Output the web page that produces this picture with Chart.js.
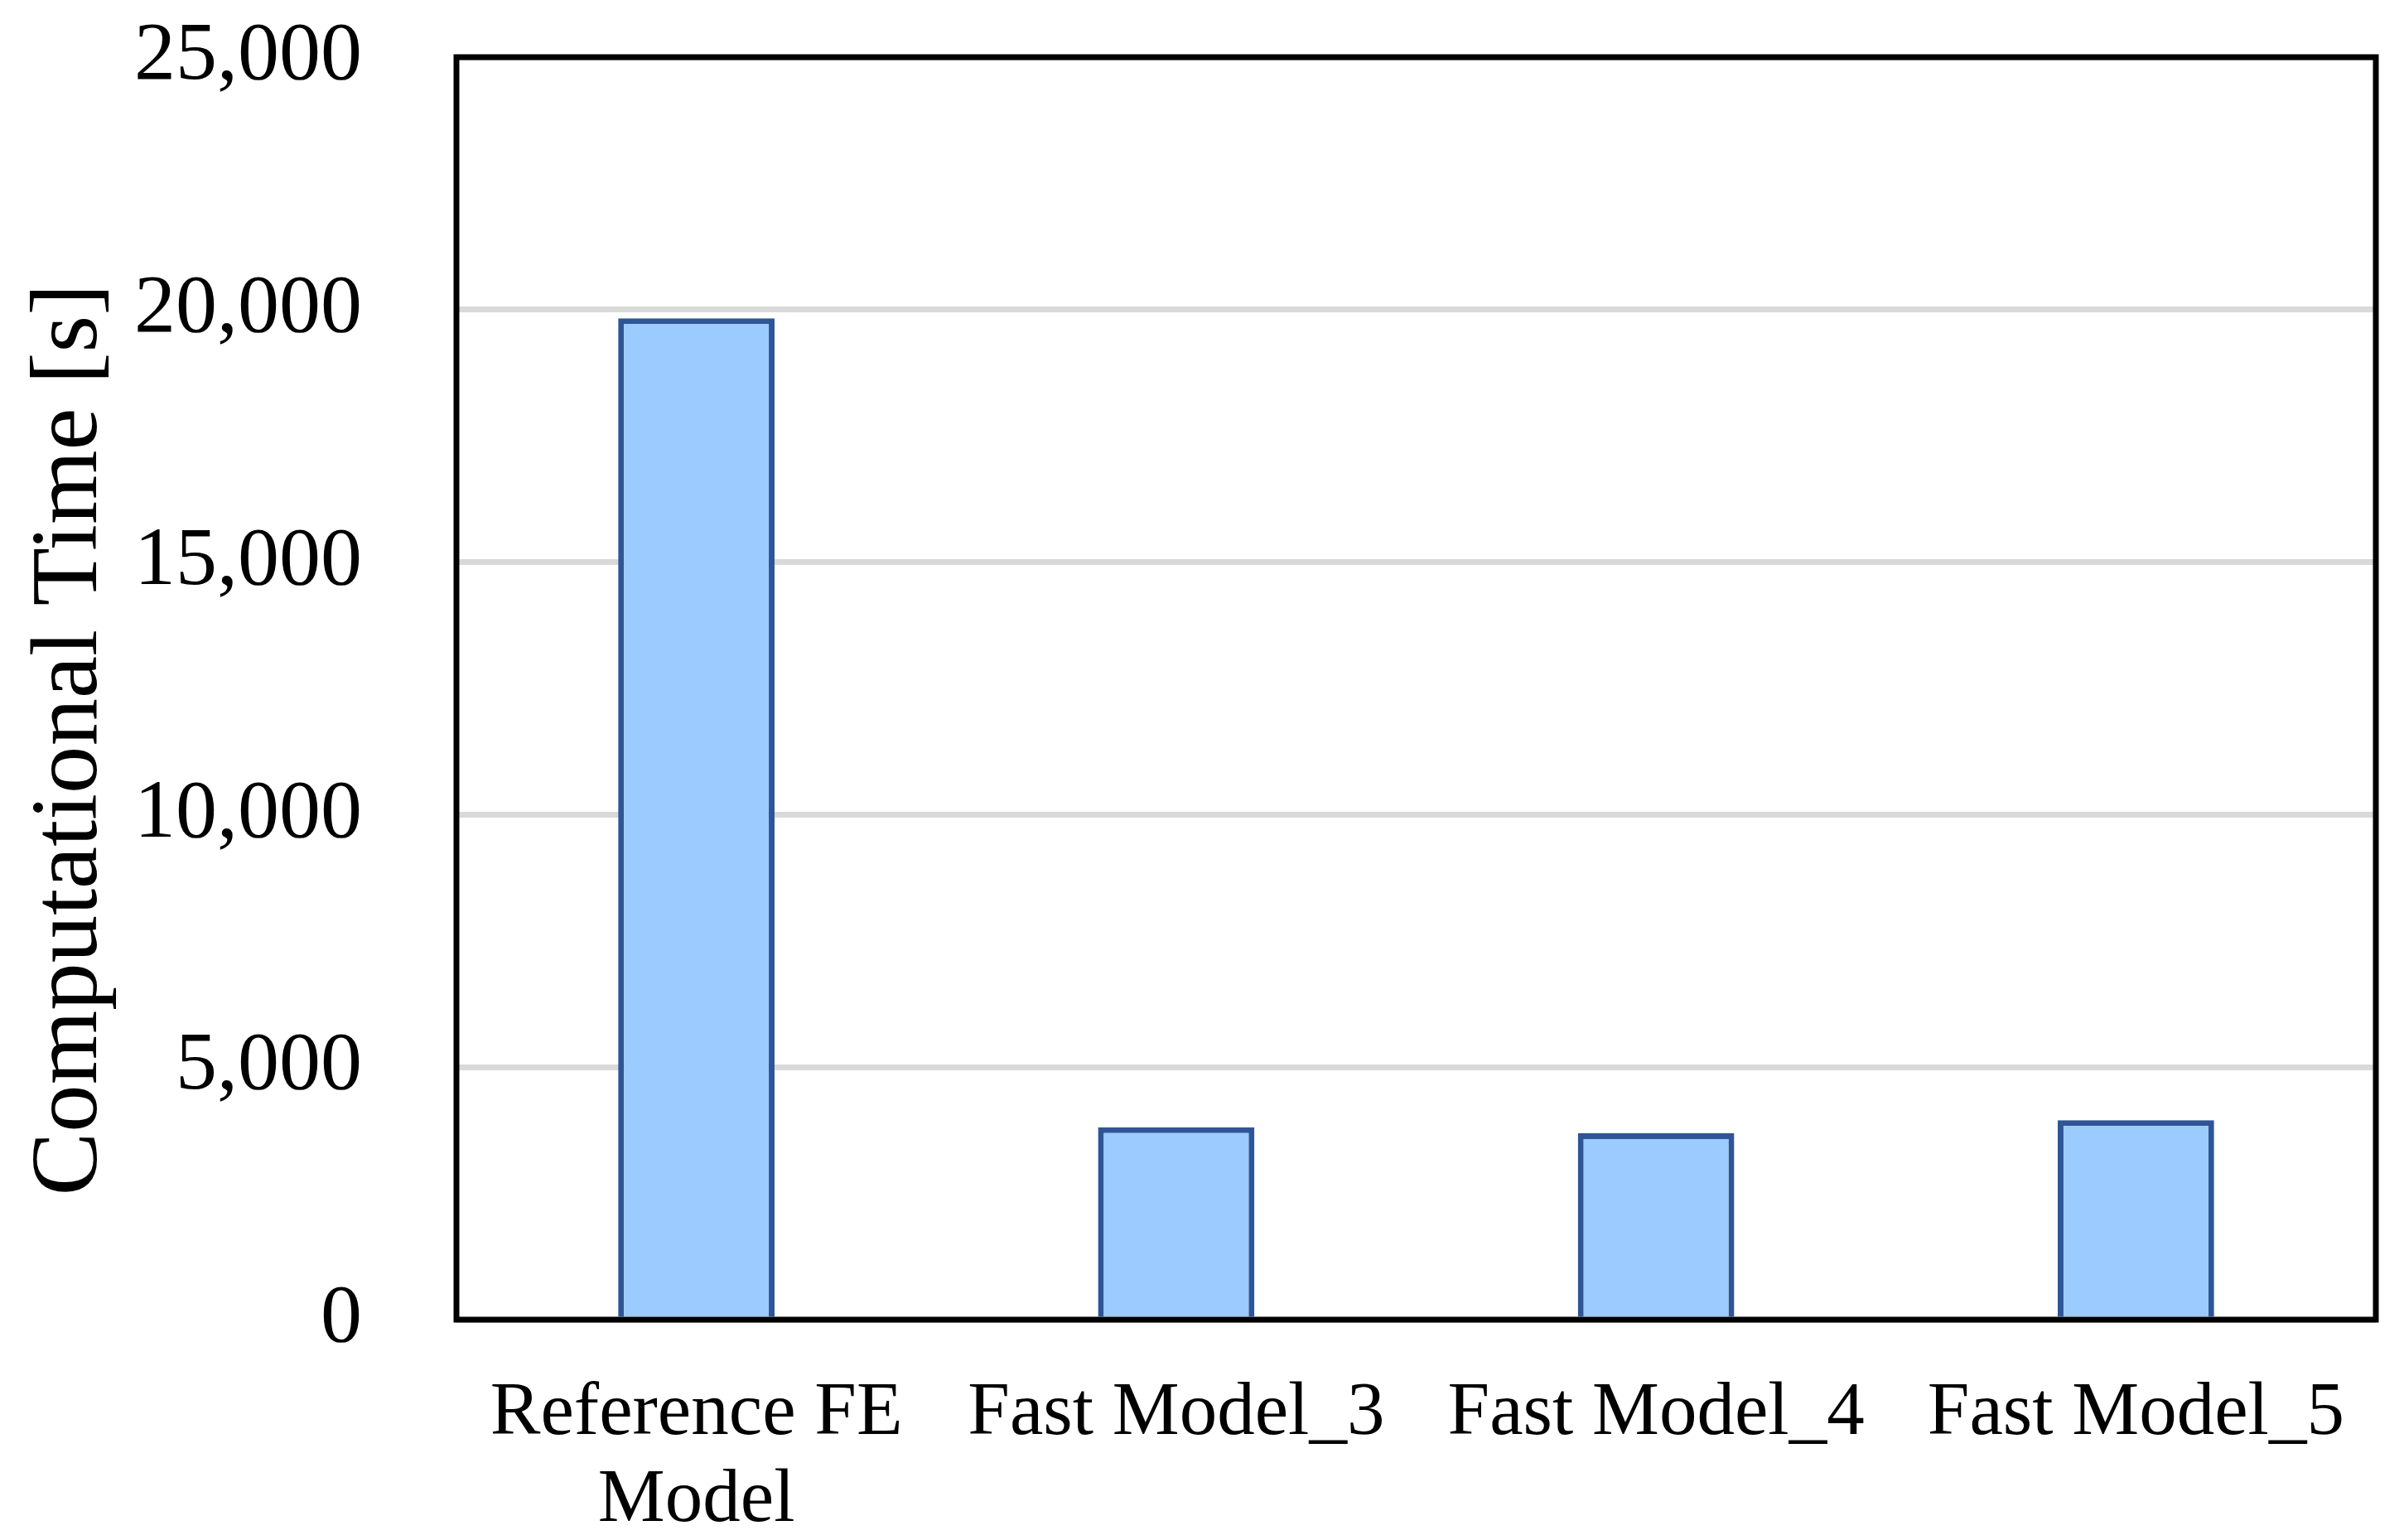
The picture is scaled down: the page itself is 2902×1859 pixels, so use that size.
<!DOCTYPE html>
<html>
<head>
<meta charset="utf-8">
<title>Computational Time</title>
<script src="https://cdn.jsdelivr.net/npm/chart.js@4.4.1/dist/chart.umd.min.js"></script>
<style>
  html, body { margin: 0; padding: 0; background: #ffffff; }
  canvas { display: block; }
</style>
</head>
<body>
<canvas id="timeChart" width="2902" height="1859"></canvas>
<script>
const categories = [["Reference FE", "Model"], "Fast Model_3", "Fast Model_4", "Fast Model_5"];
const computationalTime = [19830, 3810, 3690, 3950];
const yTicks = [0, 5000, 10000, 15000, 20000, 25000];
const yTitle = "Computational Time [s]";

const fontFamily = "'Liberation Serif', 'Times New Roman', serif";

// black frame round the plot area, drawn over the bars like in Excel
const frameBox = {
  id: "frameBox",
  afterDatasetsDraw(chart) {
    const { ctx, chartArea } = chart;
    ctx.save();
    ctx.strokeStyle = "#000000";
    ctx.lineWidth = 7;
    ctx.strokeRect(chartArea.left, chartArea.top, chartArea.right - chartArea.left, chartArea.bottom - chartArea.top);
    ctx.restore();
  },
};

// y axis title sits a bit lower than the middle of the plot
const sideTitle = {
  id: "sideTitle",
  afterDraw(chart) {
    const ctx = chart.ctx;
    ctx.save();
    ctx.translate(116, 893);
    ctx.rotate(-Math.PI / 2);
    ctx.font = "115px " + fontFamily;
    ctx.fillStyle = "#000000";
    ctx.textAlign = "center";
    ctx.textBaseline = "alphabetic";
    ctx.fillText(yTitle, 0, 0);
    ctx.restore();
  },
};

const ctx = document.getElementById("timeChart").getContext("2d");
new Chart(ctx, {
  type: "bar",
  data: {
    labels: categories,
    datasets: [
      {
        label: yTitle,
        data: computationalTime,
        backgroundColor: "#9BCBFF",
        borderColor: "#2F5597",
        borderWidth: 7,
        barPercentage: 0.326,
        categoryPercentage: 1,
      },
    ],
  },
  options: {
    responsive: false,
    animation: false,
    layout: { padding: { top: 69, right: 34, left: 0, bottom: 0 } },
    plugins: {
      legend: { display: false },
      tooltip: { enabled: false },
    },
    scales: {
      x: {
        grid: { display: false },
        border: { display: false },
        ticks: {
          color: "#000000",
          font: { family: fontFamily, size: 91, lineHeight: 1.15 },
          maxRotation: 0,
          minRotation: 0,
          autoSkip: false,
          padding: 54,
        },
        afterFit(scale) {
          scale.height = 1859 - 1593;
          scale.paddingLeft = 0;
          scale.paddingRight = 0;
        },
      },
      y: {
        min: yTicks[0],
        max: yTicks[yTicks.length - 1],
        afterBuildTicks(scale) {
          scale.ticks = yTicks.map((v) => ({ value: v }));
        },
        grid: { color: "#D9D9D9", lineWidth: 7, drawTicks: false },
        border: { display: false },
        ticks: {
          color: "#000000",
          font: { family: fontFamily, size: 100 },
          padding: 114,
          callback: (v) => v.toLocaleString("en-US"),
        },
        afterFit(scale) {
          scale.width = 551;
          scale.paddingTop = 0;
          scale.paddingBottom = 0;
        },
      },
    },
  },
  plugins: [frameBox, sideTitle],
});
</script>
</body>
</html>
